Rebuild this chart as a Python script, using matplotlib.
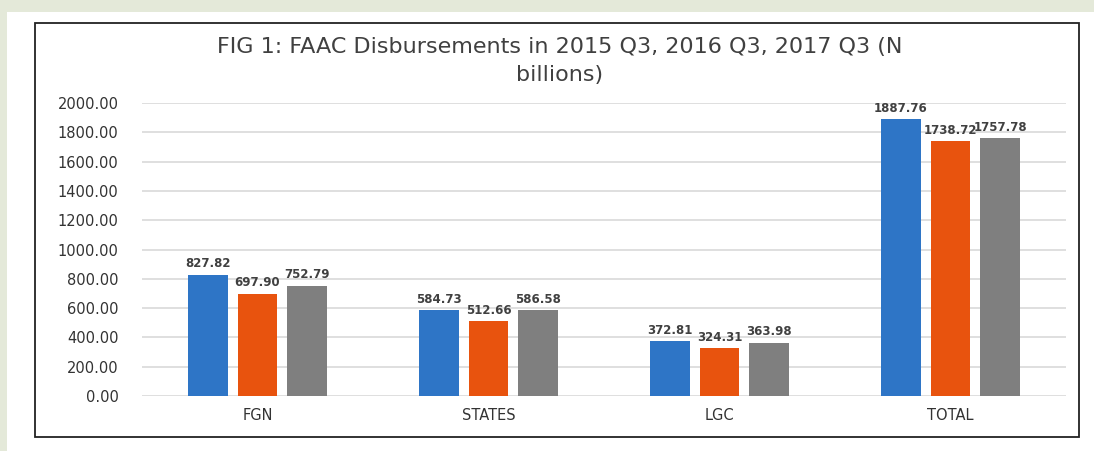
import matplotlib.pyplot as plt
import matplotlib.patches as patches
import numpy as np

categories = ["FGN", "STATES", "LGC", "TOTAL"]
q3_2015 = [827.82, 584.73, 372.81, 1887.76]
q3_2016 = [697.90, 512.66, 324.31, 1738.72]
q3_2017 = [752.79, 586.58, 363.98, 1757.78]
series = [("2015 Q3", q3_2015, "#2e75c6"),
          ("2016 Q3", q3_2016, "#e8530e"),
          ("2017 Q3", q3_2017, "#7f7f7f")]
yticks = np.arange(0, 2001, 200)

plt.rcParams['font.family'] = ['DejaVu Sans']

fig = plt.figure(figsize=(10.94, 4.51), dpi=100)
fig.patch.set_facecolor("#e4e9d9")

# white panel and framed chart area (behind the axes)
fig.patches.append(patches.Rectangle((7 / 1094, 0), 1 - 7 / 1094, 1 - 12 / 451,
                                     transform=fig.transFigure, facecolor="white",
                                     edgecolor="none", zorder=-3))
fig.patches.append(patches.Rectangle((35 / 1094, 1 - 437 / 451), (1079 - 35) / 1094, (437 - 23) / 451,
                                     transform=fig.transFigure, facecolor="white",
                                     edgecolor="#222222", linewidth=1.3, zorder=-2))

ax = fig.add_axes([142 / 1094, 1 - 396 / 451, (1066 - 142) / 1094, (396 - 103) / 451])
ax.set_facecolor("none")

x = np.arange(len(categories))
width = 0.173
step = 0.216
for i, (name, vals, col) in enumerate(series):
    pos = x + (i - 1) * step
    bars = ax.bar(pos, vals, width, color=col, zorder=3, label=name)
    for b, v in zip(bars, vals):
        ax.text(b.get_x() + b.get_width() / 2, v + 30, f"{v:.2f}", ha="center", va="bottom",
                fontsize=8.5, fontweight="bold", color="#404040")

ax.set_xlim(-0.5, len(categories) - 0.5)
ax.set_ylim(0, 2000)
ax.set_yticks(yticks)
ax.set_yticklabels([f"{v:.2f}" for v in yticks])
ax.set_xticks(x)
ax.set_xticklabels(categories)
ax.yaxis.grid(True, color="#d9d9d9", linewidth=1.2, zorder=0)
ax.set_axisbelow(True)
for s in ax.spines.values():
    s.set_visible(False)
ax.tick_params(axis="y", length=0, pad=17, labelsize=10.5, labelcolor="#333333")
ax.tick_params(axis="x", length=0, pad=9, labelsize=10.5, labelcolor="#333333")

fig.text(560 / 1094, 1 - 47 / 451, "FIG 1: FAAC Disbursements in 2015 Q3, 2016 Q3, 2017 Q3 (N",
         ha="center", va="center", fontsize=16, color="#404040")
fig.text(560 / 1094, 1 - 75 / 451, "billions)", ha="center", va="center",
         fontsize=16, color="#404040")

fig.savefig("out.png", dpi=100, facecolor=fig.get_facecolor())
